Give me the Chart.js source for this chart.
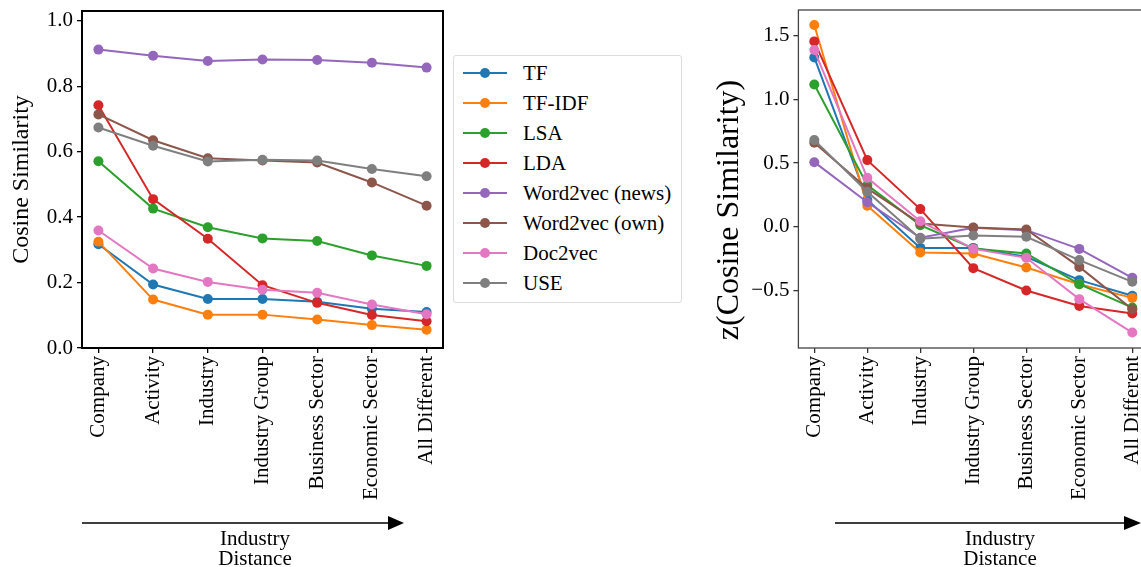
<!DOCTYPE html>
<html>
<head>
<meta charset="utf-8">
<script src="https://cdn.jsdelivr.net/npm/chart.js@4"></script>
<style>
    html, body { margin: 0; padding: 0; background: #fff; width: 1141px; height: 567px; overflow: hidden; }
    body { position: relative; font-family: "Liberation Serif", "Times New Roman", serif; }
    .chartbox { position: absolute; top: 0; }
    #legend { position: absolute; left: 453px; top: 55px; width: 227px; height: 246px;
              border: 1px solid #dcdcdc; border-radius: 3px; background: #fff; }
    .row { position: absolute; left: 0; height: 30px; width: 100%; }
    .row .ln { position: absolute; left: 9px; top: 14px; width: 44px; height: 2px; }
    .row .dot { position: absolute; left: 26px; top: 10px; width: 10px; height: 10px; border-radius: 50%; }
    .row .txt { position: absolute; left: 69px; top: 3px; font-size: 21px; line-height: 24px; color: #000; white-space: nowrap; }
    .xlab { position: absolute; font-size: 21px; line-height: 20px; text-align: center; width: 120px; color: #000; }
    #ztitle { position: absolute; left: 727px; top: 210px; font-size: 32px; line-height: 36px; white-space: nowrap;
              color: #000; transform: translate(-50%, -50%) rotate(-90deg); }
    svg { position: absolute; left: 0; top: 0; }
</style>
</head>
<body>
<div class="chartbox" style="left:0px"><canvas id="left" width="450" height="520"></canvas></div>
<div class="chartbox" style="left:690px"><canvas id="right" width="480" height="520"></canvas></div>
<div id="ztitle">z(Cosine Similarity)</div>
<div id="legend"></div>
<svg width="1141" height="567">
    <line x1="82" y1="523" x2="390" y2="523" stroke="#000" stroke-width="1.3"/>
    <polygon points="388,516 404,523 388,530" fill="#000"/>
    <line x1="835" y1="523" x2="1126" y2="523" stroke="#000" stroke-width="1.3"/>
    <polygon points="1124,516 1141,523 1124,530" fill="#000"/>
</svg>
<div class="xlab" style="left:195px; top:528px">Industry<br>Distance</div>
<div class="xlab" style="left:940px; top:528px">Industry<br>Distance</div>

<script>
(function() {
    'use strict';

    var categories = ['Company', 'Activity', 'Industry', 'Industry Group', 'Business Sector', 'Economic Sector', 'All Different'];
    var seriesNames = ['TF', 'TF-IDF', 'LSA', 'LDA', 'Word2vec (news)', 'Word2vec (own)', 'Doc2vec', 'USE'];
    var colors = ['#1f77b4', '#ff7f0e', '#2ca02c', '#d62728', '#9467bd', '#8c564b', '#e377c2', '#7f7f7f'];

    // cosine similarity (left panel)
    var cosTF       = [0.317, 0.194, 0.150, 0.150, 0.141, 0.120, 0.110];
    var cosTFIDF    = [0.325, 0.148, 0.102, 0.102, 0.087, 0.070, 0.056];
    var cosLSA      = [0.571, 0.426, 0.369, 0.335, 0.327, 0.283, 0.251];
    var cosLDA      = [0.742, 0.455, 0.334, 0.192, 0.138, 0.101, 0.082];
    var cosW2vNews  = [0.912, 0.893, 0.877, 0.882, 0.880, 0.872, 0.857];
    var cosW2vOwn   = [0.714, 0.635, 0.580, 0.573, 0.567, 0.506, 0.435];
    var cosDoc2vec  = [0.359, 0.243, 0.202, 0.178, 0.169, 0.133, 0.103];
    var cosUSE      = [0.674, 0.618, 0.570, 0.575, 0.573, 0.547, 0.525];

    // z-scored cosine similarity (right panel)
    var zTF         = [1.328, 0.210, -0.165, -0.165, -0.235, -0.418, -0.541];
    var zTFIDF      = [1.582, 0.165, -0.201, -0.209, -0.319, -0.450, -0.557];
    var zLSA        = [1.116, 0.327, 0.013, -0.170, -0.209, -0.450, -0.633];
    var zLDA        = [1.454, 0.523, 0.139, -0.324, -0.499, -0.620, -0.680];
    var zW2vNews    = [0.507, 0.193, -0.086, -0.008, -0.026, -0.173, -0.400];
    var zW2vOwn     = [0.659, 0.301, 0.026, -0.005, -0.021, -0.314, -0.646];
    var zDoc2vec    = [1.386, 0.384, 0.044, -0.173, -0.243, -0.567, -0.829];
    var zUSE        = [0.680, 0.275, -0.094, -0.068, -0.078, -0.261, -0.431];

    var leftTicks = [0.0, 0.2, 0.4, 0.6, 0.8, 1.0];
    var rightTicks = [-0.5, 0.0, 0.5, 1.0, 1.5];

    var cosSeries = [cosTF, cosTFIDF, cosLSA, cosLDA, cosW2vNews, cosW2vOwn, cosDoc2vec, cosUSE];
    var zSeries = [zTF, zTFIDF, zLSA, zLDA, zW2vNews, zW2vOwn, zDoc2vec, zUSE];

    var FONT = '"Liberation Serif", "Times New Roman", serif';

    function buildDatasets(series) {
        return series.map(function(vals, i) {
            return {
                label: seriesNames[i],
                data: vals.map(function(v, j) { return { x: j, y: v }; }),
                borderColor: colors[i],
                backgroundColor: colors[i],
                borderWidth: 2,
                pointRadius: 5,
                pointBorderWidth: 0,
                pointHoverRadius: 5,
                tension: 0,
                order: series.length - i
            };
        });
    }

    function framePlugin(color, width) {
        return {
            id: 'frame',
            afterDatasetsDraw: function(chart) {
                var a = chart.chartArea, ctx = chart.ctx;
                ctx.save();
                ctx.strokeStyle = color;
                ctx.lineWidth = width;
                ctx.strokeRect(a.left, a.top, a.right - a.left, a.bottom - a.top);
                ctx.restore();
            }
        };
    }

    function buildChart(el, opts) {
        var yTitle = opts.yTitle ? {
            display: true,
            text: opts.yTitle,
            color: '#000',
            padding: { top: opts.titlePad, bottom: 0 },
            font: { family: FONT, size: opts.titleSize }
        } : { display: false };

        return new Chart(el, {
            type: 'line',
            data: { datasets: buildDatasets(opts.series) },
            plugins: [framePlugin(opts.frameColor, opts.frameWidth)],
            options: {
                responsive: false,
                animation: false,
                devicePixelRatio: 1,
                layout: { padding: opts.padding },
                plugins: { legend: { display: false }, tooltip: { enabled: false } },
                scales: {
                    x: {
                        type: 'linear',
                        min: -0.3,
                        max: 6.3,
                        afterBuildTicks: function(scale) {
                            scale.ticks = categories.map(function(c, i) { return { value: i }; });
                        },
                        afterFit: function(scale) {
                            scale.height = 172;
                            scale.paddingLeft = 0;
                            scale.paddingRight = 0;
                        },
                        border: { display: false },
                        grid: { drawOnChartArea: false, drawTicks: true, tickLength: 5, color: opts.tickColor, lineWidth: 1.3 },
                        ticks: {
                            autoSkip: false,
                            minRotation: 90,
                            maxRotation: 90,
                            padding: 3,
                            color: '#000',
                            font: { family: FONT, size: 21 },
                            callback: function(v) { return categories[v]; }
                        }
                    },
                    y: {
                        min: opts.yMin,
                        max: opts.yMax,
                        afterBuildTicks: function(scale) {
                            scale.ticks = opts.yTicks.map(function(v) { return { value: v }; });
                        },
                        afterFit: function(scale) {
                            scale.width = opts.yWidth;
                            scale.paddingTop = 0;
                            scale.paddingBottom = 0;
                        },
                        border: { display: false },
                        grid: { drawOnChartArea: false, drawTicks: true, tickLength: 5, color: opts.tickColor, lineWidth: 1.3 },
                        ticks: {
                            padding: 4,
                            color: '#000',
                            font: { family: FONT, size: 21 },
                            callback: function(v) { return (v < 0 ? '\u2212' + Math.abs(v).toFixed(1) : v.toFixed(1)); }
                        },
                        title: yTitle
                    }
                }
            }
        });
    }

    buildChart(document.getElementById('left'), {
        series: cosSeries,
        yMin: 0, yMax: 1.03, yTicks: leftTicks,
        yWidth: 82, yTitle: 'Cosine Similarity', titleSize: 24, titlePad: 7,
        padding: { top: 11, right: 7, left: 0, bottom: 0 },
        frameColor: '#000', frameWidth: 2, tickColor: '#000'
    });

    // right panel title is placed as html text (it sits off-centre in the original)
    buildChart(document.getElementById('right'), {
        series: zSeries,
        yMin: -0.95, yMax: 1.70, yTicks: rightTicks,
        yWidth: 108.4, yTitle: null,
        padding: { top: 10, right: 21.8, left: 0, bottom: 0 },
        frameColor: '#444', frameWidth: 1.3, tickColor: '#333'
    });

    // legend
    var legend = document.getElementById('legend');
    seriesNames.forEach(function(name, i) {
        var row = document.createElement('div');
        row.className = 'row';
        row.style.top = (2 + 30 * i) + 'px';
        row.innerHTML = '<span class="ln" style="background:' + colors[i] + '"></span>' +
                        '<span class="dot" style="background:' + colors[i] + '"></span>' +
                        '<span class="txt">' + name + '</span>';
        legend.appendChild(row);
    });
})();
</script>
</body>
</html>
